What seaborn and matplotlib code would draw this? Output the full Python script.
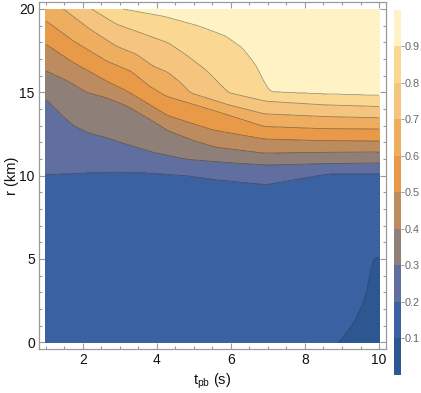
import numpy as np
import matplotlib
matplotlib.use("Agg")
import matplotlib.pyplot as plt
from matplotlib.colors import ListedColormap, BoundaryNorm
from matplotlib.ticker import MultipleLocator
import seaborn as sns

# ---- data: contour line positions r(t) ----
levels = [0.1, 0.2, 0.3, 0.4, 0.5, 0.6, 0.7, 0.8, 0.9]

t_01 = [1, 8.5, 8.93, 9.3, 9.59, 9.73, 9.78, 9.83, 10]
r_01 = [-3, -0.6, 0.0, 1.1, 2.4, 3.6, 4.5, 5.05, 5.07]

t_02 = [1, 2, 2.9, 3.8, 4.8, 5.6, 6.95, 7.7, 8.6, 10]
r_02 = [10.06, 10.16, 10.22, 10.16, 10.0, 9.76, 9.47, 9.76, 10.1, 10.12]

t_03 = [1, 1.45, 1.75, 2.15, 2.65, 3.05, 3.9, 4.8, 6.0, 7.0, 8.5, 10]
r_03 = [14.6, 13.6, 13.0, 12.57, 12.27, 11.97, 11.4, 10.98, 10.77, 10.64, 10.72, 10.76]

t_04 = [1, 1.6, 2.1, 2.65, 3.2, 3.8, 4.3, 5.0, 5.6, 6.9, 8.5, 10]
r_04 = [16.3, 15.67, 15.0, 14.67, 14.17, 13.4, 12.7, 12.1, 11.7, 11.35, 11.4, 11.42]

t_05 = [1, 1.75, 2.65, 3.2, 3.8, 4.3, 5.5, 6.9, 8.5, 10]
r_05 = [17.9, 16.78, 15.67, 15.07, 14.27, 13.6, 12.75, 12.2, 12.1, 12.08]

t_06 = [1, 1.75, 2.65, 3.3, 3.8, 4.25, 5.6, 6.9, 8.5, 10]
r_06 = [19.3, 18.08, 16.87, 16.27, 15.37, 14.77, 13.87, 12.95, 12.82, 12.8]

t_07 = [1, 1.48, 2.2, 2.9, 3.45, 3.9, 4.3, 4.65, 4.9, 5.9, 6.9, 8.5, 10]
r_07 = [20.8, 20.0, 18.78, 17.78, 17.28, 16.57, 16.2, 15.57, 14.97, 14.27, 13.71, 13.55, 13.47]

t_08 = [1, 2.24, 2.92, 3.55, 4.3, 4.77, 5.31, 5.67, 5.94, 6.93, 8.5, 10]
r_08 = [21.7, 20.0, 19.08, 18.58, 17.98, 17.28, 16.37, 15.57, 14.97, 14.47, 14.25, 14.15]

t_09 = [1, 2, 3.06, 4.2, 5.13, 5.85, 6.3, 6.66, 6.93, 7.07, 8.5, 10]
r_09 = [22.5, 21.2, 20.0, 19.55, 18.98, 18.38, 17.68, 16.67, 15.47, 15.03, 14.9, 14.81]

band_colors = ["#2c5791", "#3a62a3", "#606fa0", "#8f7f79", "#bd8b60",
               "#e89a48", "#efad60", "#f5c47e", "#fbd892", "#fff2c4"]

x_ticks = [2, 4, 6, 8, 10]
y_ticks = [0, 5, 10, 15, 20]
cbar_ticks = [0.1, 0.2, 0.3, 0.4, 0.5, 0.6, 0.7, 0.8, 0.9]

# ---- build the field from the contour positions ----
lines_t = [t_01, t_02, t_03, t_04, t_05, t_06, t_07, t_08, t_09]
lines_r = [r_01, r_02, r_03, r_04, r_05, r_06, r_07, r_08, r_09]

t_grid = np.linspace(1, 10, 451)
r_grid = np.linspace(0, 20, 601)
win = 9
kernel = np.ones(win) / win


def smooth(y):
    yp = np.concatenate([np.full(win // 2, y[0]), y, np.full(win // 2, y[-1])])
    return np.convolve(yp, kernel, mode="valid")


R = np.array([smooth(np.interp(t_grid, tk, rk)) for tk, rk in zip(lines_t, lines_r)])
Z = np.empty((r_grid.size, t_grid.size))
vals = [0.0] + levels + [1.0]
for j in range(t_grid.size):
    rr = np.maximum.accumulate(R[:, j] + np.arange(9) * 1e-6)
    knots = np.concatenate([[rr[0] - 5], rr, [rr[-1] + 5]])
    Z[:, j] = np.interp(r_grid, knots, vals)
T, RR = np.meshgrid(t_grid, r_grid)

# ---- style ----
sns.set_style("ticks")
plt.rcParams["font.family"] = ["Liberation Sans", "DejaVu Sans"]
plt.rcParams["mathtext.fontset"] = "custom"
plt.rcParams["mathtext.rm"] = "Liberation Sans"
plt.rcParams["mathtext.it"] = "Liberation Sans"

palette = sns.color_palette(band_colors)
cmap = ListedColormap(palette)
bounds = [0.0] + levels + [1.0]
norm = BoundaryNorm(bounds, cmap.N)

fig = plt.figure(figsize=(4.21, 3.93), dpi=100)
ax = fig.add_axes([39 / 421, 1 - 349.3 / 393, (385.7 - 39) / 421, (349.3 - 2) / 393])
cax = fig.add_axes([394.3 / 421, 1 - 375 / 393, 6.3 / 421, (375 - 9.5) / 393])

cf = ax.contourf(T, RR, Z, levels=bounds, cmap=cmap, norm=norm)
ax.contour(T, RR, Z, levels=levels, colors=[(0.15, 0.15, 0.15, 0.5)], linewidths=0.55)

ax.set_xlim(0.82, 10.18)
ax.set_ylim(-0.42, 20.42)
ax.set_xticks(x_ticks)
ax.set_yticks(y_ticks)
ax.xaxis.set_minor_locator(MultipleLocator(0.5))
ax.yaxis.set_minor_locator(MultipleLocator(1))
frame_col = "#9a9a9a"
for s in ax.spines.values():
    s.set_color(frame_col)
    s.set_linewidth(0.9)
ax.tick_params(which="both", direction="in", top=True, right=True, color=frame_col, width=0.8)
ax.tick_params(which="major", length=4, labelsize=10, labelcolor="#111111", pad=3)
ax.tick_params(which="minor", length=2)
ax.set_xlabel("t$_{\\mathrm{pb}}$ (s)", fontsize=10.5, color="#111111", labelpad=3)
ax.set_ylabel("r (km)", fontsize=10.5, color="#111111", labelpad=0)

cb = fig.colorbar(cf, cax=cax, ticks=cbar_ticks)
cb.outline.set_visible(False)
cb.ax.minorticks_off()
cb.ax.tick_params(which="both", length=2, width=0.6, color="#888888", labelsize=7.8, labelcolor="#666666", pad=0.8)
cb.ax.set_yticks(cbar_ticks)
cb.ax.set_yticklabels([f"{v:.1f}" for v in cbar_ticks])

fig.savefig("out.png", dpi=100)
